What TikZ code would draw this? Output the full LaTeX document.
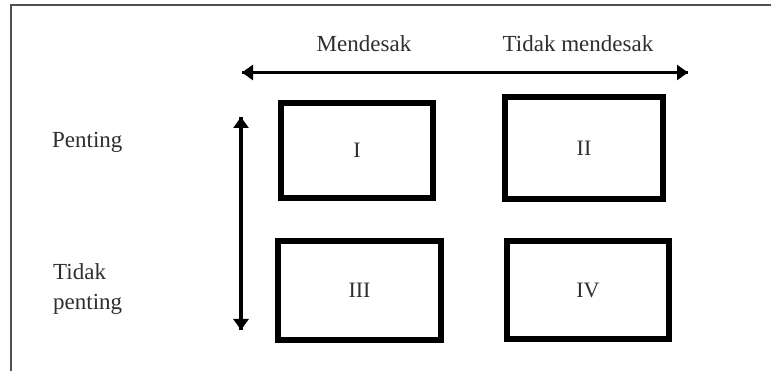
\documentclass[tikz,border=0pt]{standalone}
\usepackage{fontspec}
\setmainfont{Liberation Serif}
\usetikzlibrary{arrows.meta}
\definecolor{txt}{HTML}{2E2E2E}
\definecolor{frm}{HTML}{505050}
\begin{document}
\begin{tikzpicture}[x=1pt,y=-1pt,
  quad/.style={draw=black,line width=6pt,minimum width=#1,inner sep=0pt,font=\fontsize{22}{24}\selectfont,text=txt},
  lbl/.style={font=\fontsize{23}{30}\selectfont,text=txt,inner sep=0pt},
  axis/.style={line width=3.5pt,-{Triangle[length=11pt,width=15pt]},black}]
\useasboundingbox (0,0) rectangle (771,371);
\draw[frm,line width=2pt] (10.5,371) -- (10.5,5) -- (771,5);
% boxes
\node[quad=152pt,minimum height=95pt] (b1) at (357,150.5) {I};
\node[quad=158pt,minimum height=102pt] (b2) at (584,148) {II};
\node[quad=163pt,minimum height=99pt] (b3) at (359.5,290.5) {III};
\node[quad=162pt,minimum height=98pt] (b4) at (588,290) {IV};
% axis end points
\coordinate (hl) at (242,72.5);
\coordinate (hr) at (688,72.5);
\coordinate (vt) at (241,117);
\coordinate (vb) at (241,330);
\draw[axis] (hr) -- (hl);
\draw[axis] (hl) -- (hr);
\draw[axis] (vb) -- (vt);
\draw[axis] (vt) -- (vb);
% labels
\node[lbl] (m) at (364,44) {Mendesak};
\node[lbl] (tm) at (578,44) {Tidak mendesak};
\node[lbl,anchor=west] (p) at (52,142) {Penting};
\node[lbl,anchor=west,align=left] (tp) at (53,289) {Tidak\\penting};
\end{tikzpicture}
\end{document}
